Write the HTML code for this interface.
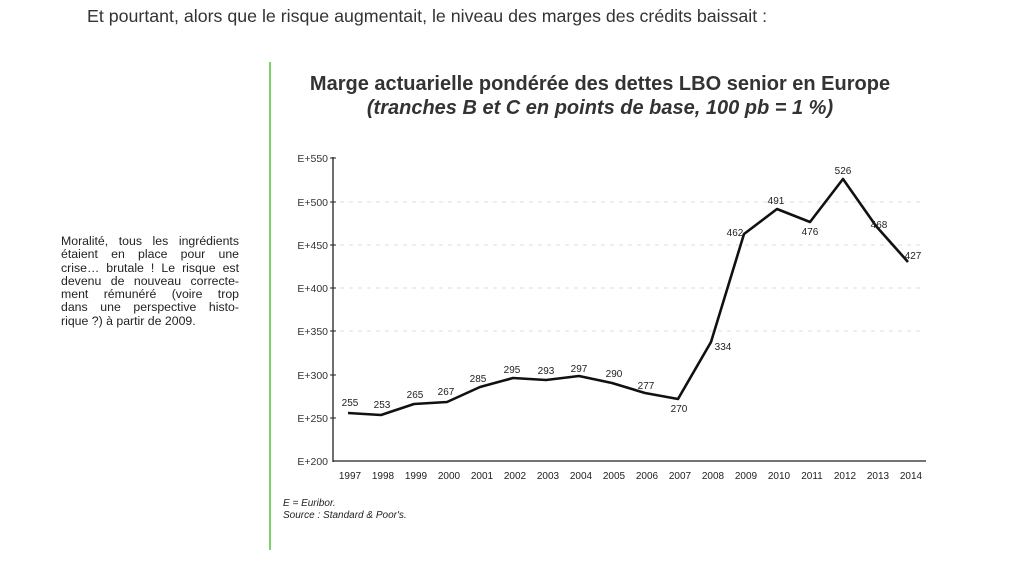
<!DOCTYPE html>
<html><head><meta charset="utf-8"><style>
body{margin:0;width:1024px;height:570px;background:#fff;position:relative;font-family:"Liberation Sans",sans-serif;color:#222;overflow:hidden}
.a{position:absolute;white-space:nowrap}
.l{width:178px;text-align:justify;text-align-last:justify;height:13.3px;white-space:nowrap}
</style></head><body>
<div class="a" style="left:87px;top:6px;font-size:17.8px;color:#333">Et pourtant, alors que le risque augmentait, le niveau des marges des crédits baissait :</div>
<div style="position:absolute;left:269px;top:62px;width:2px;height:488px;background:#7fcf6a"></div>
<div style="position:absolute;left:61px;top:235px;font-size:12.3px;line-height:13.3px;color:#222">
<div class="l">Moralité, tous les ingrédients</div>
<div class="l">étaient en place pour une</div>
<div class="l">crise… brutale ! Le risque est</div>
<div class="l">devenu de nouveau correcte-</div>
<div class="l">ment rémunéré (voire trop</div>
<div class="l">dans une perspective histo-</div>
<div>rique ?) à partir de 2009.</div>
</div>
<div class="a" style="left:280px;top:72px;width:640px;text-align:center;font-size:20px;font-weight:bold;line-height:24px;color:#333">Marge actuarielle pondérée des dettes LBO senior en Europe<br><i>(tranches B et C en points de base, 100 pb = 1 %)</i></div>
<div class="a" style="left:283px;top:498px;font-size:10px;font-style:italic;line-height:12px">E = Euribor.<br>Source : Standard &amp; Poor's.</div>
<svg width="1024" height="570" style="position:absolute;left:0;top:0" font-family="Liberation Sans,sans-serif">
<g stroke="#ddd" stroke-dasharray="4 5"><line x1="340" x2="925" y1="288" y2="288"/><line x1="340" x2="925" y1="331" y2="331"/><line x1="340" x2="925" y1="245" y2="245"/><line x1="340" x2="925" y1="202" y2="202"/></g>
<g stroke="#222" stroke-width="1.3"><line x1="333" y1="157" x2="333" y2="462"/><line x1="333" y1="461" x2="926" y2="461"/></g>
<g font-size="10.5" fill="#333" text-anchor="end">
<text x="328" y="465">E+200</text><text x="328" y="422">E+250</text><text x="328" y="379">E+300</text><text x="328" y="335">E+350</text><text x="328" y="292">E+400</text><text x="328" y="249">E+450</text><text x="328" y="206">E+500</text><text x="328" y="162">E+550</text></g>
<g stroke="#222"><line x1="330" x2="336" y1="418" y2="418"/><line x1="330" x2="336" y1="375" y2="375"/><line x1="330" x2="336" y1="331" y2="331"/><line x1="330" x2="336" y1="288" y2="288"/><line x1="330" x2="336" y1="245" y2="245"/><line x1="330" x2="336" y1="202" y2="202"/><line x1="330" x2="336" y1="158" y2="158"/></g>
<g font-size="10" fill="#222" text-anchor="middle">
<text x="350" y="479">1997</text><text x="383" y="479">1998</text><text x="416" y="479">1999</text><text x="449" y="479">2000</text><text x="482" y="479">2001</text><text x="515" y="479">2002</text><text x="548" y="479">2003</text><text x="581" y="479">2004</text><text x="614" y="479">2005</text><text x="647" y="479">2006</text><text x="680" y="479">2007</text><text x="713" y="479">2008</text><text x="746" y="479">2009</text><text x="779" y="479">2010</text><text x="812" y="479">2011</text><text x="845" y="479">2012</text><text x="878" y="479">2013</text><text x="911" y="479">2014</text></g>
<polyline fill="none" stroke="#111" stroke-width="2.6" stroke-linejoin="round" points="348,413 381,415 414,404 447,402 480,387 513,378 546,380 579,376 612,383 645,393 678,399 711,342 744,234 777,209 810,222 843,179 876,226 908,262"/>
<g font-size="10" fill="#222" text-anchor="middle">
<text x="350" y="406">255</text><text x="382" y="408">253</text><text x="415" y="398">265</text><text x="446" y="395">267</text><text x="478" y="382">285</text><text x="512" y="373">295</text><text x="546" y="374">293</text><text x="579" y="372">297</text><text x="614" y="377">290</text><text x="646" y="389">277</text><text x="679" y="412">270</text><text x="723" y="350">334</text><text x="735" y="236">462</text><text x="776" y="204">491</text><text x="810" y="235">476</text><text x="843" y="174">526</text><text x="879" y="228">468</text><text x="913" y="259">427</text></g>
</svg>
</body></html>
